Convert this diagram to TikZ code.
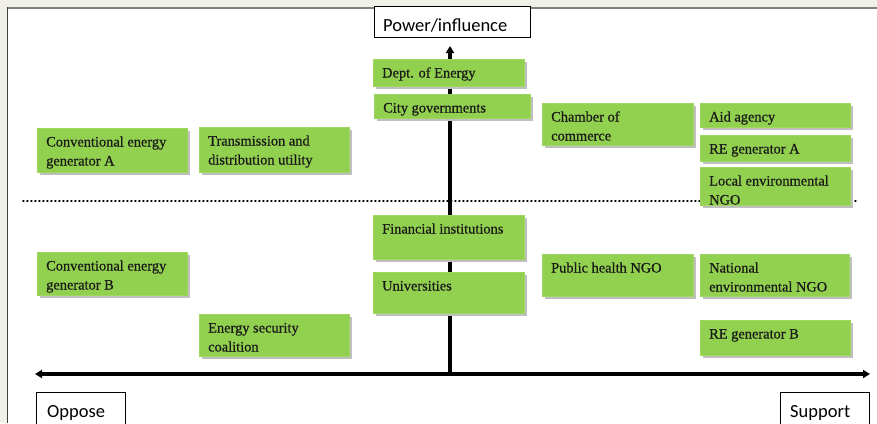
\documentclass[tikz,border=0pt]{standalone}
\usepackage{fontspec}
\setmainfont[FakeBold=0.6]{Liberation Serif}
\newfontfamily\carl{Carlito}
\usetikzlibrary{arrows.meta}
\definecolor{bggray}{HTML}{F0F0E8}
\definecolor{framegray}{HTML}{7F7F7F}
\definecolor{boxgreen}{HTML}{92D050}
\definecolor{boxedge}{HTML}{9ED65E}
\definecolor{shadowgray}{HTML}{BFBFBF}
\tikzset{
  gbox/.style={fill=boxgreen, draw=boxedge, line width=0.8pt},
  gshadow/.style={fill=shadowgray, draw=none},
  gtext/.style={anchor=base west, inner sep=0pt, font=\fontsize{14.4}{19}\selectfont, text=black!90},
  lbox/.style={draw=black, line width=0.6pt, fill=white},
  ltext/.style={anchor=base west, inner sep=0pt, font=\carl\fontsize{18.5}{20}\selectfont},
  axis/.style={line width=3.2pt, -{Triangle[length=7pt,width=8pt]}}
}
% green box: left, top, right, bottom, name, line1, line2
\newcommand{\gb}[7]{%
  \fill[gshadow] (#1+3,#2+3) rectangle (#3+3,#4+3);
  \draw[gbox] (#1,#2) rectangle (#3,#4);
  \node[gtext] (#5) at (#1+9,#2+18.5) {#6};
  \node[gtext] (#5b) at (#1+9,#2+37.5) {#7};
}
\begin{document}
\begin{tikzpicture}[x=1pt,y=-1pt]
\useasboundingbox (0,0) rectangle (877,423);
\fill[bggray] (0,0) rectangle (877,423);
\fill[white] (7,7) rectangle (877,423);
\draw[framegray, line width=2pt] (7,8) -- (877,8);
\draw[black!75, line width=1pt] (7.5,7) -- (7.5,423);
% dotted line
\coordinate (dl) at (23,201);
\coordinate (dr) at (856,201);
\draw[line width=1.8pt, dash pattern=on 0.8pt off 3.2pt, line cap=round] (dl) -- (dr);
% axes
\coordinate (o) at (450,374);
\coordinate (top) at (450,46);
\coordinate (xl) at (35,374);
\coordinate (xr) at (870,374);
\draw[axis] (o) -- (top);
\draw[axis] (o) -- (xl);
\draw[axis] (o) -- (xr);
% label boxes
\draw[lbox] (374,6) rectangle (530,37);
\node[ltext] (power) at (383,31) {Power/influence};
\draw[lbox] (36,392) rectangle (125,430);
\node[ltext] (oppose) at (47,417) {Oppose};
\draw[lbox] (780,392) rectangle (869,430);
\node[ltext] (support) at (790,417) {Support};
% green boxes
\gb{373}{59}{524}{86}{doe}{Dept. of Energy}{}
\gb{374}{94}{530}{118}{city}{City governments}{}
\gb{37}{128}{187}{172}{cga}{Conventional energy}{generator A}
\gb{199}{127}{349}{172}{tdu}{Transmission and}{distribution utility}
\gb{542}{103}{693}{145}{coc}{Chamber of}{commerce}
\gb{700}{103}{850}{127}{aid}{Aid agency}{}
\gb{700}{135}{850}{161}{rea}{RE generator A}{}
\gb{700}{167}{850}{205}{leng}{Local environmental}{NGO}
\gb{373}{215}{524}{259}{fin}{Financial institutions}{}
\gb{373}{272}{524}{313}{uni}{Universities}{}
\gb{37}{252}{187}{295}{cgb}{Conventional energy}{generator B}
\gb{199}{314}{349}{356}{esc}{Energy security}{coalition}
\gb{542}{254}{693}{296}{phn}{Public health NGO}{}
\gb{700}{254}{849}{296}{neng}{National}{environmental NGO}
\gb{700}{320}{850}{355}{reb}{RE generator B}{}
\end{tikzpicture}
\end{document}
